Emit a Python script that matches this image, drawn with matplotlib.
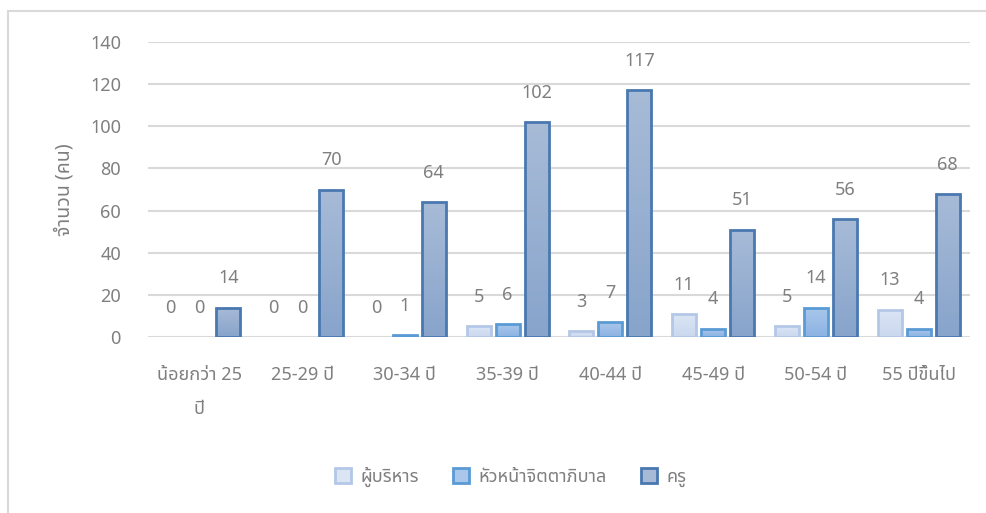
import matplotlib
matplotlib.use("Agg")
import matplotlib.pyplot as plt
import numpy as np
from matplotlib import font_manager as fm
from matplotlib.colors import LinearSegmentedColormap
from matplotlib.patches import Rectangle

categories = ["น้อยกว่า 25\nปี", "25-29 ปี", "30-34 ปี", "35-39 ปี",
              "40-44 ปี", "45-49 ปี", "50-54 ปี", "55 ปีขึ้นไป"]
series_names = ["ผู้บริหาร", "หัวหน้าจิตตาภิบาล", "ครู"]
executives = [0, 0, 0, 5, 3, 11, 5, 13]
heads = [0, 0, 1, 6, 7, 4, 14, 4]
teachers = [14, 70, 64, 102, 117, 51, 56, 68]

# pick a Thai font that is installed
have = {f.name for f in fm.fontManager.ttflist}
thai = next((n for n in ["Noto Sans Thai", "IBM Plex Sans Thai", "Sarabun", "Kanit"] if n in have), "DejaVu Sans")
plt.rcParams['font.family'] = [thai, 'DejaVu Sans']

grey = "#7f7f7f"
tops = ["#dbe5f4", "#aac7eb", "#a7bbd7"]
bottoms = ["#cad8ee", "#8cb3e2", "#88a4cb"]
edges = ["#b4c7e7", "#5b9bd5", "#4a78b0"]

fig = plt.figure(figsize=(9.86, 5.13), dpi=100)
ax = fig.add_axes([148 / 986, 1 - 337 / 513, 822 / 986, 295 / 513])

x = np.arange(len(categories))
w = 0.235
step = 0.282
grad = np.linspace(0, 1, 64).reshape(-1, 1)

for i, vals in enumerate([executives, heads, teachers]):
    bars = ax.bar(x + (i - 1) * step, vals, w, facecolor="none",
                  edgecolor=edges[i], linewidth=2, zorder=3)
    cmap = LinearSegmentedColormap.from_list("g%d" % i, [tops[i], bottoms[i]])
    for b, v in zip(bars, vals):
        if v > 0:
            im = ax.imshow(grad, cmap=cmap, aspect="auto", zorder=2,
                           extent=[b.get_x(), b.get_x() + b.get_width(), 0, v])
            im.set_clip_path(b)
        else:
            b.set_edgecolor("none")
        ax.annotate(str(v), (b.get_x() + b.get_width() / 2, v), xytext=(0, 21),
                    textcoords="offset points", ha="center", va="center",
                    fontsize=13, color=grey)

ax.set_xlim(-0.5, len(categories) - 0.5)
ax.set_ylim(0, 140)
ax.set_yticks(range(0, 141, 20))
ax.set_xticks(x)
ax.set_xticklabels(categories, linespacing=2.1)
ax.tick_params(axis="both", length=0, labelsize=13, colors=grey)
ax.tick_params(axis="y", pad=19.5)
ax.tick_params(axis="x", pad=21)
ax.grid(axis="y", color="#d9d9d9", linewidth=1.5, zorder=0)
for s in ax.spines.values():
    s.set_visible(False)
ax.set_ylabel("จำนวน (คน)", fontsize=14, color=grey, labelpad=11)

handles = [Rectangle((0, 0), 1, 1, facecolor=(tops[i]), edgecolor=edges[i], linewidth=2)
           for i in range(3)]
fig.legend(handles, series_names, loc="center", bbox_to_anchor=(0.518, 1 - 477 / 513),
           ncol=3, frameon=False, fontsize=13, labelcolor=grey, handlelength=0.9,
           handleheight=0.9, handletextpad=0.5, columnspacing=1.9)

fig.add_artist(Rectangle((8 / 986, -0.01), 1.0, 1 - 11 / 513 + 0.01, transform=fig.transFigure,
                         facecolor="none", edgecolor="#d9d9d9", linewidth=1.5))

fig.savefig("out.png", dpi=100)
